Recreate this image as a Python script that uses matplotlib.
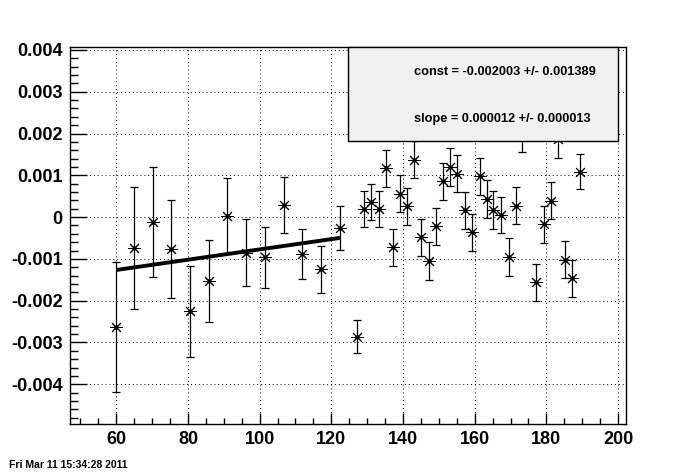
import numpy as np
import matplotlib as mpl
mpl.use("Agg")
import matplotlib.pyplot as plt
from matplotlib.patches import Rectangle
from matplotlib.ticker import MultipleLocator


# measured points (y and errors in units of 1e-3)
X_VALS = [60.0, 64.9, 70.2, 75.4, 80.5, 85.8, 90.9, 96.1, 101.5, 106.8,
          111.8, 117.1, 122.4, 127.2, 129.2, 131.2, 133.2, 135.3, 137.3, 139.2,
          141.2, 143.1, 145.1, 147.2, 149.3, 151.2, 153.2, 155.1, 157.3, 159.3,
          161.4, 163.4, 165.2, 167.2, 169.5, 171.5, 173.3, 177.0, 179.2, 181.2,
          183.1, 185.1, 187.2, 189.5]
Y_VALS = [-2.63, -0.74, -0.11, -0.76, -2.25, -1.53, 0.02, -0.85, -0.96, 0.29,
          -0.89, -1.25, -0.26, -2.86, 0.19, 0.37, 0.19, 1.17, -0.72, 0.56,
          0.26, 1.37, -0.48, -1.05, -0.22, 0.86, 1.20, 1.04, 0.16, -0.36,
          0.98, 0.44, 0.17, 0.05, -0.95, 0.27, 2.00, -1.56, -0.17, 0.39,
          1.86, -1.02, -1.46, 1.09]
Y_ERRS = [1.55, 1.45, 1.32, 1.18, 1.09, 0.98, 0.91, 0.80, 0.73, 0.66,
          0.60, 0.57, 0.53, 0.40, 0.43, 0.43, 0.43, 0.44, 0.44, 0.44,
          0.44, 0.44, 0.44, 0.45, 0.45, 0.44, 0.45, 0.45, 0.44, 0.44,
          0.44, 0.45, 0.45, 0.44, 0.45, 0.44, 0.44, 0.45, 0.44, 0.44,
          0.44, 0.44, 0.44, 0.41]

# linear fit result
FIT_CONST = -0.002003
FIT_SLOPE = 0.0000123
FIT_RANGE = [60.0, 122.4]
FIT_TEXT = ["const = -0.002003 +/- 0.001389", "slope = 0.000012 +/- 0.000013"]
DATE_TEXT = "Fri Mar 11 15:34:28 2011"


def main():
    mpl.rcParams.update({
        "font.family": ["Liberation Sans", "DejaVu Sans"],
        "font.weight": "bold",
    })

    fig = plt.figure(figsize=(6.96, 4.72), dpi=100)
    ax = fig.add_axes([0.1001, 0.1017, 0.7993, 0.7987])

    x = np.array(X_VALS)
    y = np.array(Y_VALS) * 1e-3
    err = np.array(Y_ERRS) * 1e-3

    ax.errorbar(x, y, yerr=err, fmt="none", ecolor="black", elinewidth=0.9,
                capsize=3, capthick=0.9, zorder=3)
    ax.plot(x, y, ls="none", marker=(8, 2, 0), ms=9, mec="black", mew=0.7, zorder=4)
    ax.plot(x, y, ls="none", marker="o", ms=2.2, color="black", zorder=4)

    xf = np.array(FIT_RANGE)
    ax.plot(xf, FIT_CONST + FIT_SLOPE * xf, color="black", lw=2.8,
            solid_capstyle="butt", zorder=5)

    ax.set_xlim(47, 202.2)
    ax.set_ylim(-0.00495, 0.00407)
    ax.xaxis.set_minor_locator(MultipleLocator(5))
    ax.yaxis.set_minor_locator(MultipleLocator(0.0002))
    ax.set_xticks([60, 80, 100, 120, 140, 160, 180, 200])
    ax.set_yticks([-0.004, -0.003, -0.002, -0.001, 0, 0.001, 0.002, 0.003, 0.004])
    ax.set_yticklabels(["-0.004", "-0.003", "-0.002", "-0.001", "0",
                        "0.001", "0.002", "0.003", "0.004"])

    ax.tick_params(axis="both", which="both", direction="in", top=False, right=False,
                   labelsize=13, width=1, color="black")
    ax.tick_params(axis="x", which="major", length=8.1, pad=5)
    ax.tick_params(axis="x", which="minor", length=4.1)
    ax.tick_params(axis="y", which="major", length=12, pad=5)
    ax.tick_params(axis="y", which="minor", length=6)
    for lab in ax.get_xticklabels() + ax.get_yticklabels():
        lab.set_fontweight("bold")

    ax.grid(True, which="major", color="black", lw=0.7, ls=(0, (1, 3)))
    for sp in ax.spines.values():
        sp.set_linewidth(1.0)

    # fit result box drawn over the data, like the ROOT stats pave
    box = Rectangle((0.5004, 0.7013), 0.388, 0.1998, transform=fig.transFigure,
                    facecolor="#f0f0f0", edgecolor="black", lw=1.0, zorder=10)
    fig.patches.append(box)
    fig.text(0.5948, 0.848, FIT_TEXT[0], fontsize=9.2, fontweight="bold",
             ha="left", va="center", zorder=11)
    fig.text(0.5948, 0.7479, FIT_TEXT[1], fontsize=9.2, fontweight="bold",
             ha="left", va="center", zorder=11)

    fig.text(0.0125, 1 - 465 / 472, DATE_TEXT, fontsize=7.5, fontweight="bold",
             ha="left", va="center")

    fig.savefig("out.png", dpi=100)


if __name__ == "__main__":
    main()
